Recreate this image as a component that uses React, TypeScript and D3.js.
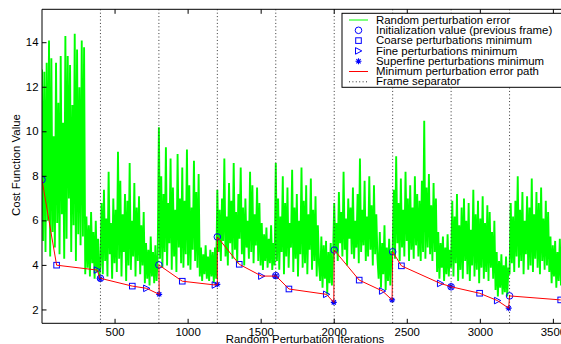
import * as d3 from "d3"

// Random perturbation error, sampled every 8 iterations, one array per frame of 400 iterations
const frame1 = [12.8, 5.1, 12.7, 4.6, 13.1, 6.0, 14.1, 4.4, 13.3, 5.5, 9.8, 4.8, 13.1, 5.9, 11.3, 4.5, 13.4, 6.3, 10.4, 4.3, 14.3, 5.2, 13.4, 7.0, 13.0, 4.6, 11.2, 5.8, 14.4, 4.2, 13.7, 5.4, 12.0, 4.9, 14.1, 5.3, 13.8,
  3.6, 6.2, 3.9, 5.8, 3.5, 6.4, 4.1, 5.5, 3.4, 6.0, 3.7, 5.2, 3.5]
const frame2 = [4.0, 6.8, 3.6, 7.4, 4.2, 6.1, 3.5, 8.2, 4.5, 5.9, 3.4, 7.0, 4.1, 6.5, 3.7, 9.1, 4.3, 7.8, 3.5, 6.3, 4.6, 7.2, 3.3, 6.9, 4.0, 8.6, 3.8, 6.0, 4.4, 7.7, 3.5, 6.6, 4.2, 7.1, 3.6, 5.8, 4.0, 6.4,
  3.2, 5.0, 3.4, 4.7, 3.1, 5.3, 3.5, 4.6, 3.2, 4.9, 3.3, 4.5]
const frame3 = [10.2, 4.3, 8.0, 3.9, 7.2, 4.6, 9.3, 4.0, 6.8, 5.0, 8.8, 3.8, 7.5, 4.4, 6.5, 3.7, 9.0, 4.8, 7.0, 4.1, 8.4, 3.9, 6.9, 4.5, 9.2, 4.0, 7.6, 3.8, 6.6, 4.7, 8.7, 4.2, 7.3, 3.9, 8.1,
  3.5, 4.8, 3.3, 4.5, 3.6, 4.9, 3.4, 4.4, 3.3, 4.7, 3.5, 4.6, 3.2, 4.8, 3.4]
const frame4 = [7.4, 4.6, 6.5, 4.2, 7.0, 5.1, 8.8, 4.4, 6.2, 4.0, 7.7, 5.0, 6.9, 4.3, 8.6, 4.7, 6.4, 4.1, 7.2, 5.2, 8.4, 4.5, 6.6, 4.0, 7.0, 4.8, 6.0, 4.3, 8.2, 4.6, 7.6, 4.1, 6.3, 4.9, 7.5, 4.2, 6.8,
  4.0, 5.9, 3.8, 5.4, 4.2, 5.7, 3.9, 5.2, 4.1, 5.8, 3.8, 5.0, 4.0]
const frame5 = [8.6, 4.2, 7.0, 3.8, 6.2, 4.6, 8.0, 3.6, 6.8, 4.4, 7.5, 3.9, 5.9, 4.8, 8.3, 3.7, 6.6, 4.3, 7.2, 3.5, 6.0, 4.5, 8.4, 3.9, 6.9, 4.1, 7.6, 3.6, 6.3, 4.7, 7.9, 3.8, 6.5, 4.2, 7.1, 3.5, 5.8, 4.0,
  3.3, 5.3, 3.0, 4.9, 3.4, 5.1, 2.7, 4.6, 3.2, 5.0, 3.1, 4.4]
const frame6 = [6.8, 4.6, 5.9, 4.2, 7.3, 5.0, 6.4, 4.4, 8.2, 4.7, 6.1, 4.0, 7.0, 5.2, 6.6, 4.5, 7.5, 4.3, 6.0, 4.8, 7.2, 4.1, 8.8, 4.6, 6.5, 4.9, 7.8, 4.2, 6.2, 4.4, 8.0, 4.7, 6.7, 4.0, 7.6, 4.5, 6.3, 4.3,
  3.4, 5.5, 3.0, 5.0, 3.6, 5.8, 2.9, 4.8, 3.3, 5.2, 3.1, 4.6]
const frame7 = [4.6, 7.4, 4.3, 8.9, 5.0, 6.8, 4.2, 7.9, 4.8, 6.5, 4.4, 8.2, 5.1, 7.0, 4.2, 7.6, 4.7, 6.6, 4.3, 8.0, 4.9, 7.2, 4.4, 6.9, 4.2, 7.8, 4.6, 10.5, 4.3, 7.5, 4.8, 8.1, 4.5, 6.7, 4.2, 7.7, 4.6, 7.0,
  3.7, 5.5, 3.4, 5.0, 3.9, 5.3, 3.3, 4.8, 3.6, 5.4, 3.5, 4.7]
const frame8 = [3.9, 6.9, 3.5, 6.2, 4.1, 7.2, 3.3, 5.8, 3.8, 6.6, 3.4, 7.0, 4.2, 6.0, 3.6, 6.8, 3.3, 5.6, 4.0, 7.4, 3.5, 6.3, 3.8, 6.9, 3.2, 6.1, 3.9, 7.1, 3.4, 5.9, 3.7, 6.7, 3.3, 6.4, 3.9, 5.5, 3.4, 6.0,
  2.9, 4.6, 2.6, 4.2, 3.0, 4.5, 2.7, 4.0, 2.8, 4.4, 2.6, 3.9]
const frame9 = [3.6, 6.8, 4.1, 6.2, 3.7, 6.9, 4.4, 8.0, 3.9, 6.5, 4.2, 7.3, 3.6, 6.0, 4.5, 7.1, 3.8, 6.6, 4.0, 7.9, 3.7, 6.3, 4.3, 7.3, 3.9, 6.8, 3.6, 7.5, 4.2, 6.1, 3.8, 6.9, 4.0, 6.4, 3.7,
  5.3, 3.2, 4.9, 3.5, 5.1, 3.0, 4.6, 3.3, 5.2, 3.1, 4.7, 3.4, 4.9, 3.0, 4.5]
const frames = [frame1, frame2, frame3, frame4, frame5, frame6, frame7, frame8, frame9]
const frameLength = 400
const sampleStep = 8

// [iteration, value] per frame
const initValues = [[0, 7.85], [400, 3.42], [800, 4.02], [1200, 5.28], [1600, 3.54], [2000, 4.69], [2400, 4.61], [2800, 3.04], [3200, 2.63]]
const coarseMin = [[100, 4.01], [618, 3.07], [960, 3.29], [1350, 4.05], [1690, 2.94], [2171, 3.34], [2460, 3.98], [2995, 2.75], [3550, 2.45]]
const fineMin = [[378, 3.79], [716, 2.97], [1185, 3.12], [1503, 3.52], [1947, 2.7], [2330, 2.85], [2727, 3.19], [3117, 2.42]]
const superfineMin = [[398, 3.4], [802, 2.7], [1200, 3.15], [1598, 3.52], [1997, 2.34], [2396, 2.45], [2798, 3.05], [3194, 2.08]]

const frameSeparators = [400, 800, 1200, 1600, 2000, 2400, 2800, 3200]
const xTicks = [500, 1000, 1500, 2000, 2500, 3000, 3500]
const yTicks = [2, 4, 6, 8, 10, 12, 14]
const legendLabels = [
  "Random perturbation error",
  "Initialization value (previous frame)",
  "Coarse perturbations minimum",
  "Fine perturbations minimum",
  "Superfine perturbations minimum",
  "Minimum perturbation error path",
  "Frame separator",
]

const W = 561
const H = 344
const FONT = "'Liberation Sans', Arial, Helvetica, sans-serif"
const BLUE = "#0000ff"

function Txt({ x, y, anchor = "start", rotate = 0, size = 10.2, children }: any) {
  return (
    <text
      transform={`translate(${x},${y}) rotate(${rotate}) scale(1.12,1)`}
      textAnchor={anchor}
      fontFamily={FONT}
      fontSize={size}
      fill="#000"
    >
      {children}
    </text>
  )
}

function Marker({ kind, cx, cy }: { kind: string; cx: number; cy: number }) {
  if (kind === "circle") return <circle cx={cx} cy={cy} r={3.3} fill="none" stroke={BLUE} strokeWidth={1} />
  if (kind === "square") return <rect x={cx - 2.8} y={cy - 2.8} width={5.6} height={5.6} fill="none" stroke={BLUE} strokeWidth={1} />
  if (kind === "triangle")
    return <path d={`M${cx - 3},${cy - 3.3}L${cx + 3.3},${cy}L${cx - 3},${cy + 3.3}Z`} fill="none" stroke={BLUE} strokeWidth={1} />
  const r = 3
  const d = r * 0.71
  return (
    <path
      d={`M${cx - r},${cy}H${cx + r}M${cx},${cy - r}V${cy + r}M${cx - d},${cy - d}L${cx + d},${cy + d}M${cx - d},${cy + d}L${cx + d},${cy - d}`}
      stroke={BLUE}
      strokeWidth={1.1}
      fill="none"
    />
  )
}

export default function App() {
  const x = d3.scaleLinear().domain([0, 3600]).range([42, 568])
  const y = d3.scaleLinear().domain([1.4, 15.5]).range([323.3, 9.3])
  const [x0, x1] = x.range()
  const [yb, yt] = y.range()

  const noise = frames.flatMap((vals, f) => vals.map((v, i) => [f * frameLength + i * sampleStep, v] as [number, number]))
  const line = d3
    .line<number[]>()
    .x((d) => x(d[0]))
    .y((d) => y(d[1]))

  // minimum path: init -> coarse -> fine -> superfine, frame after frame
  const path: number[][] = []
  initValues.forEach((p, f) => {
    path.push(p, coarseMin[f])
    if (fineMin[f]) path.push(fineMin[f])
    if (superfineMin[f]) path.push(superfineMin[f])
  })

  const legendX = 342
  const legendY = 13.3
  const rowH = 10.3
  const sampleX0 = 349
  const sampleX1 = 368

  return (
    <svg width={W} height={H} style={{ position: "absolute", left: 0, top: 0, background: "#fff" }}>
      <defs>
        <clipPath id="plot">
          <rect x={x0} y={yt} width={x1 - x0} height={yb - yt} />
        </clipPath>
      </defs>
      <rect width={W} height={H} fill="#fff" />

      <g clipPath="url(#plot)">
        <path d={line(noise) || ""} fill="none" stroke="#00ff00" strokeWidth={1.9} strokeLinejoin="miter" strokeMiterlimit={2} />
        {initValues.map((p, i) => <Marker key={"c" + i} kind="circle" cx={x(p[0])} cy={y(p[1])} />)}
        {coarseMin.map((p, i) => <Marker key={"s" + i} kind="square" cx={x(p[0])} cy={y(p[1])} />)}
        {fineMin.map((p, i) => <Marker key={"t" + i} kind="triangle" cx={x(p[0])} cy={y(p[1])} />)}
        {superfineMin.map((p, i) => <Marker key={"a" + i} kind="star" cx={x(p[0])} cy={y(p[1])} />)}
        <path d={line(path) || ""} fill="none" stroke="#ff0000" strokeWidth={1} />
        {frameSeparators.map((s) => (
          <line key={s} x1={x(s)} x2={x(s)} y1={yt} y2={yb} stroke="#333" strokeWidth={1} strokeDasharray="1,2.4" />
        ))}
      </g>

      {/* axes box */}
      <path d={`M${x1 + 1},${yt}H${x0}V${yb}H${x1 + 1}`} fill="none" stroke="#000" strokeWidth={1} />
      {xTicks.map((t) => (
        <g key={t}>
          <line x1={x(t)} x2={x(t)} y1={yb} y2={yb - 4.5} stroke="#000" />
          <line x1={x(t)} x2={x(t)} y1={yt} y2={yt + 4.5} stroke="#000" />
          <Txt x={x(t)} y={336} anchor="middle">{t}</Txt>
        </g>
      ))}
      {yTicks.map((t) => (
        <g key={t}>
          <line x1={x0} x2={x0 + 4.5} y1={y(t)} y2={y(t)} stroke="#000" />
          <Txt x={38.5} y={y(t) + 3.6} anchor="end">{t}</Txt>
        </g>
      ))}
      <Txt x={305} y={343} anchor="middle">Random Perturbation Iterations</Txt>
      <Txt x={20} y={165} anchor="middle" rotate={-90}>Cost Function Value</Txt>

      {/* legend */}
      <rect x={legendX} y={legendY} width={260} height={74} fill="#fff" stroke="#000" strokeWidth={1} />
      {legendLabels.map((label, i) => {
        const cy = legendY + 6.7 + i * rowH
        const cx = (sampleX0 + sampleX1) / 2
        let sample
        if (i === 0) sample = <line x1={sampleX0} x2={sampleX1} y1={cy} y2={cy} stroke="#00ff00" />
        else if (i === 1) sample = <Marker kind="circle" cx={cx} cy={cy} />
        else if (i === 2) sample = <Marker kind="square" cx={cx} cy={cy} />
        else if (i === 3) sample = <Marker kind="triangle" cx={cx} cy={cy} />
        else if (i === 4) sample = <Marker kind="star" cx={cx} cy={cy} />
        else if (i === 5) sample = <line x1={sampleX0} x2={sampleX1} y1={cy} y2={cy} stroke="#ff0000" />
        else sample = <line x1={sampleX0} x2={sampleX1} y1={cy} y2={cy} stroke="#333" strokeDasharray="1,2.4" />
        return (
          <g key={label}>
            {sample}
            <Txt x={376} y={cy + 3.6}>{label}</Txt>
          </g>
        )
      })}
    </svg>
  )
}
